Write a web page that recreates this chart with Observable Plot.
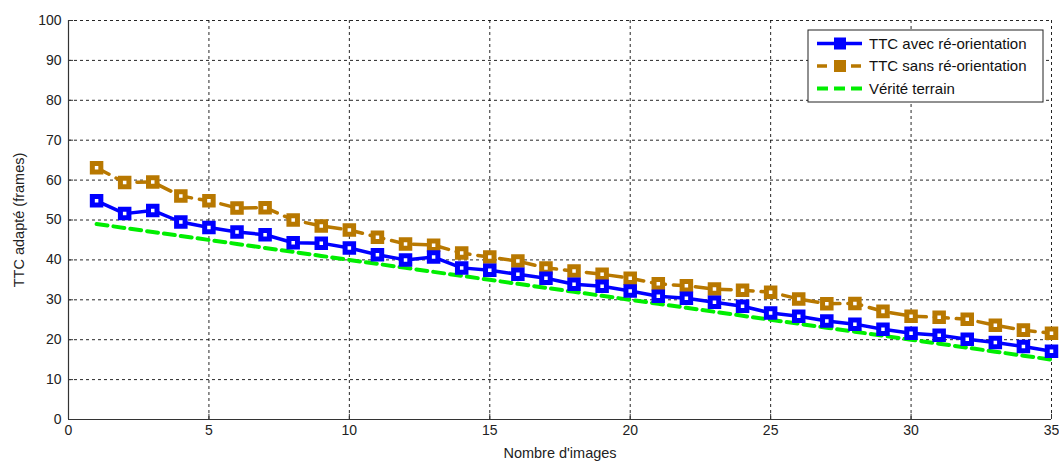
<!DOCTYPE html>
<html>
<head>
<meta charset="utf-8">
<script src="https://cdn.jsdelivr.net/npm/d3@7"></script>
<script src="https://cdn.jsdelivr.net/npm/@observablehq/plot@0.6"></script>
<style>
  body { margin: 0; background: #fff; }
  #chart svg { display: block; }
</style>
</head>
<body>
<div id="chart"></div>
<script>
const images = d3.range(1, 36);
const avecReorientation = [54.8, 51.6, 52.4, 49.5, 48.1, 47.0, 46.3, 44.3, 44.2, 43.0,
  41.3, 40.0, 40.7, 38.0, 37.4, 36.4, 35.4, 33.9, 33.4, 32.2,
  30.9, 30.4, 29.4, 28.4, 26.7, 25.9, 24.7, 23.9, 22.6, 21.6,
  21.1, 20.1, 19.3, 18.3, 17.1];
const sansReorientation = [63.1, 59.4, 59.5, 56.0, 54.8, 53.0, 53.1, 50.0, 48.5, 47.5,
  45.7, 44.0, 43.7, 41.7, 40.7, 39.7, 38.0, 37.2, 36.4, 35.4,
  34.0, 33.5, 32.7, 32.4, 31.9, 30.2, 29.0, 29.1, 27.1, 25.9,
  25.6, 25.1, 23.6, 22.4, 21.6];
const veriteTerrain = [49, 48, 47, 46, 45, 44, 43, 42, 41, 40,
  39, 38, 37, 36, 35, 34, 33, 32, 31, 30,
  29, 28, 27, 26, 25, 24, 23, 22, 21, 20,
  19, 18, 17, 16, 15];
const xTicks = [0, 5, 10, 15, 20, 25, 30, 35];
const yTicks = [0, 10, 20, 30, 40, 50, 60, 70, 80, 90, 100];
const seriesNames = ["TTC avec ré-orientation", "TTC sans ré-orientation", "Vérité terrain"];
const seriesColors = ["#0000ff", "#b87800", "#00ee00"];

const avec = images.map((x, i) => ({x, y: avecReorientation[i]}));
const sans = images.map((x, i) => ({x, y: sansReorientation[i]}));
const verite = images.map((x, i) => ({x, y: veriteTerrain[i]}));

const chart = Plot.plot({
  width: 1059,
  height: 462,
  marginLeft: 68,
  marginRight: 8,
  marginTop: 20,
  marginBottom: 43,
  style: {fontFamily: "Liberation Sans, Arial, sans-serif", fontSize: "14px", color: "#222", background: "#fff"},
  x: {domain: [0, 35], ticks: xTicks, label: null},
  y: {domain: [0, 100], ticks: yTicks, label: null},
  marks: [
    Plot.gridX(xTicks, {stroke: "#000", strokeOpacity: 0.85, strokeDasharray: "3,3", strokeWidth: 1}),
    Plot.gridY(yTicks, {stroke: "#000", strokeOpacity: 0.85, strokeDasharray: "3,3", strokeWidth: 1}),
    Plot.line(verite, {x: "x", y: "y", stroke: seriesColors[2], strokeWidth: 4, strokeDasharray: "11,6"}),
    Plot.line(sans, {x: "x", y: "y", stroke: seriesColors[1], strokeWidth: 3.5, strokeDasharray: "14,8"}),
    Plot.dot(sans, {x: "x", y: "y", symbol: "square", r: 4.8, fill: "#fff", stroke: seriesColors[1], strokeWidth: 5}),
    Plot.line(avec, {x: "x", y: "y", stroke: seriesColors[0], strokeWidth: 3.5}),
    Plot.dot(avec, {x: "x", y: "y", symbol: "square", r: 4.8, fill: "#fff", stroke: seriesColors[0], strokeWidth: 5}),
    Plot.ruleX(xTicks, {y1: 0, y2: 1.3, stroke: "#333"}),
    Plot.ruleY(yTicks, {x1: 0, x2: 0.18, stroke: "#333"}),
    Plot.ruleY([0], {stroke: "#333", strokeWidth: 1.2}),
    Plot.ruleX([0], {stroke: "#333", strokeWidth: 1.2}),
    Plot.axisX({ticks: xTicks, tickSize: 0, tickPadding: 6, fontSize: 14, label: null}),
    Plot.axisY({ticks: yTicks, tickSize: 0, tickPadding: 7, fontSize: 14, label: null}),
    Plot.axisX({ticks: [], tickSize: 0, fontSize: 14.5, label: "Nombre d'images", labelAnchor: "center", labelOffset: 38, labelArrow: "none"}),
    Plot.axisY({ticks: [], tickSize: 0, fontSize: 14.5, label: "TTC adapté (frames)", labelAnchor: "center", labelOffset: 55, labelArrow: "none"})
  ]
});
document.getElementById("chart").appendChild(chart);

// Legend box (MATLAB style) inside the plot area
const svg = d3.select(chart);
const lg = svg.append("g")
  .style("font-family", "Liberation Sans, Arial, sans-serif")
  .style("font-size", "15px")
  .attr("text-anchor", "start");
lg.append("rect").attr("x", 808).attr("y", 30).attr("width", 235).attr("height", 72)
  .attr("fill", "#fff").attr("stroke", "#222").attr("stroke-width", 1);
const rows = [
  {dash: null, marker: true},
  {dash: "10,7", marker: true},
  {dash: "11,6", marker: false}
];
rows.forEach((r, i) => {
  const yy = 43.5 + i * 22.5;
  const color = seriesColors[i];
  lg.append("line").attr("x1", 817).attr("x2", 862).attr("y1", yy).attr("y2", yy)
    .attr("stroke", color).attr("stroke-width", i === 2 ? 4 : 3.5)
    .attr("stroke-dasharray", r.dash);
  if (r.marker) {
    lg.append("rect").attr("x", 834.5).attr("y", yy - 5.5).attr("width", 11).attr("height", 11)
      .attr("fill", color).attr("stroke", color).attr("stroke-width", 1);
  }
  lg.append("text").attr("x", 869).attr("y", yy).attr("dy", "0.35em").attr("fill", "#111")
    .attr("text-anchor", "start")
    .text(seriesNames[i]);
});
</script>
</body>
</html>
